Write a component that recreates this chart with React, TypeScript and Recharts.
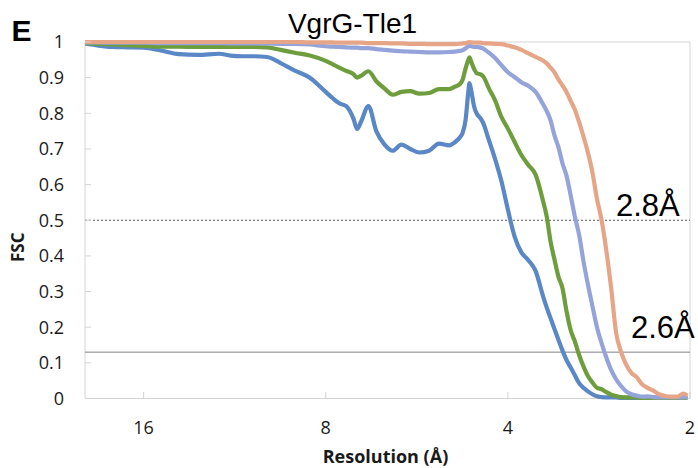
import React from 'react';
import { LineChart, Line, XAxis, YAxis, ReferenceLine, ReferenceArea } from 'recharts';

// Resolution (Å) sampling grid
const resolution = [
  20, 19, 18, 17, 16, 15, 14, 13, 12, 11.5, 11, 10.5, 10, 9.5, 9, 8.5, 8, 7.8, 7.6, 7.4,
  7.2, 7.1, 7.0, 6.8, 6.6, 6.4, 6.2, 6.0, 5.8, 5.6, 5.4, 5.2, 5.0, 4.9, 4.8, 4.75, 4.7,
  4.65, 4.63, 4.6, 4.55, 4.5, 4.45, 4.4, 4.3, 4.2, 4.1, 4.0, 3.9, 3.8, 3.7, 3.6, 3.5,
  3.45, 3.4, 3.35, 3.3, 3.25, 3.2, 3.15, 3.1, 3.05, 3.0, 2.95, 2.9, 2.85, 2.8, 2.75,
  2.7, 2.65, 2.6, 2.55, 2.5, 2.45, 2.4, 2.35, 2.3, 2.25, 2.2, 2.15, 2.1, 2.05, 2.02,
];

const fscBlue = [
  0.996, 0.99, 0.986, 0.985, 0.984, 0.976, 0.966, 0.964, 0.967, 0.962, 0.96, 0.96, 0.958, 0.941, 0.92, 0.9, 0.86, 0.843, 0.828, 0.82,
  0.785, 0.756, 0.775, 0.82, 0.75, 0.713, 0.695, 0.712, 0.7, 0.69, 0.695, 0.715, 0.71, 0.718, 0.733, 0.746, 0.78,
  0.86, 0.885, 0.865, 0.82, 0.798, 0.788, 0.775, 0.725, 0.672, 0.61, 0.53, 0.455, 0.41, 0.388, 0.358, 0.288,
  0.255, 0.225, 0.195, 0.165, 0.135, 0.108, 0.087, 0.065, 0.043, 0.03, 0.02, 0.012, 0.006, 0.004, 0.003,
  0.003, 0.003, 0.002, 0.002, 0.002, 0.002, 0.002, 0.002, 0.002, 0.002, 0.002, 0.002, 0.002, 0.002, 0.002,
];

const fscGreen = [
  0.997, 0.995, 0.993, 0.991, 0.989, 0.987, 0.987, 0.986, 0.986, 0.986, 0.986, 0.986, 0.985, 0.978, 0.97, 0.962, 0.947, 0.938, 0.928, 0.919,
  0.91, 0.9, 0.905, 0.918, 0.89, 0.87, 0.852, 0.86, 0.862, 0.855, 0.857, 0.868, 0.868, 0.874, 0.882, 0.895, 0.925,
  0.95, 0.957, 0.945, 0.925, 0.912, 0.91, 0.905, 0.87, 0.836, 0.79, 0.757, 0.72, 0.683, 0.655, 0.628, 0.555,
  0.51, 0.44, 0.39, 0.342, 0.31, 0.245, 0.192, 0.16, 0.122, 0.09, 0.063, 0.045, 0.03, 0.026, 0.018,
  0.011, 0.007, 0.004, 0.003, 0.003, 0.003, 0.002, 0.002, 0.002, 0.002, 0.002, 0.002, 0.002, 0.002, 0.002,
];

const fscPurple = [
  0.999, 0.999, 0.998, 0.998, 0.998, 0.997, 0.997, 0.997, 0.997, 0.996, 0.996, 0.996, 0.996, 0.995, 0.995, 0.993, 0.988, 0.987, 0.986, 0.985,
  0.984, 0.984, 0.983, 0.983, 0.98, 0.978, 0.976, 0.974, 0.973, 0.972, 0.971, 0.971, 0.972, 0.973, 0.975, 0.977, 0.982,
  0.988, 0.99, 0.988, 0.986, 0.986, 0.985, 0.982, 0.97, 0.955, 0.935, 0.915, 0.902, 0.887, 0.877, 0.86, 0.826,
  0.806, 0.78, 0.738, 0.705, 0.66, 0.625, 0.57, 0.51, 0.459, 0.385, 0.32, 0.26, 0.2, 0.155, 0.115,
  0.08, 0.054, 0.035, 0.02, 0.012, 0.008, 0.005, 0.006, 0.004, 0.003, 0.003, 0.003, 0.003, 0.003, 0.004,
];

const fscOrange = [
  1.0, 1.0, 1.0, 1.0, 1.0, 1.0, 1.0, 1.0, 1.0, 1.0, 1.0, 1.0, 1.0, 1.0, 1.0, 0.999, 0.999, 0.999, 0.998, 0.998,
  0.998, 0.998, 0.998, 0.997, 0.997, 0.997, 0.996, 0.996, 0.995, 0.995, 0.994, 0.994, 0.994, 0.994, 0.995, 0.996, 0.997,
  0.999, 1.0, 0.999, 0.998, 0.998, 0.998, 0.997, 0.996, 0.995, 0.994, 0.99, 0.985, 0.978, 0.968, 0.958, 0.948,
  0.94, 0.928, 0.915, 0.895, 0.878, 0.86, 0.835, 0.81, 0.775, 0.735, 0.69, 0.635, 0.56, 0.5, 0.415,
  0.31, 0.185, 0.131, 0.095, 0.072, 0.06, 0.04, 0.03, 0.022, 0.012, 0.007, 0.005, 0.005, 0.014, 0.008,
];

const xTicks = [16, 8, 4, 2];
const yTicks = [0, 0.1, 0.2, 0.3, 0.4, 0.5, 0.6, 0.7, 0.8, 0.9, 1];

const data = resolution.map((r, i) => ({
  res: r,
  blue: fscBlue[i],
  green: fscGreen[i],
  purple: fscPurple[i],
  orange: fscOrange[i],
}));

const TICK_FONT = "'Open Sans', 'Noto Sans', sans-serif";
const AXIS_GREY = '#d4d4d4';

const YTick = (props: any) => {
  const { x, y, payload } = props;
  const v = payload.value;
  const label = v === 0 ? '0' : v === 1 ? '1' : v.toFixed(1);
  return (
    <g>
      <line x1={x} x2={x + 6} y1={y} y2={y} stroke={AXIS_GREY} strokeWidth={1} />
      <text x={x - 21} y={y} dy="0.36em" textAnchor="end" fontFamily={TICK_FONT} fontSize={18} fill="#1a1a1a">
        {label}
      </text>
    </g>
  );
};

const XTick = (props: any) => {
  const { x, y, payload } = props;
  return (
    <g>
      <line x1={x} x2={x} y1={y} y2={y - 6.5} stroke={AXIS_GREY} strokeWidth={1} />
      <text x={x} y={y + 35} textAnchor="middle" fontFamily={TICK_FONT} fontSize={18} fill="#1a1a1a">
        {payload.value}
      </text>
    </g>
  );
};

const XLabel = (props: any) => {
  const vb = props.viewBox;
  return (
    <text x={vb.x + vb.width / 2 - 2} y={vb.y + 64.5} textAnchor="middle" fontFamily={TICK_FONT} fontWeight="bold" fontSize={18} fill="#1a1a1a">
      Resolution (Å)
    </text>
  );
};

const YLabel = (props: any) => {
  const vb = props.viewBox;
  const cx = vb.x + 18;
  const cy = vb.y + vb.height / 2 + 27;
  return (
    <text x={cx} y={cy} dy="0.36em" textAnchor="middle" transform={`rotate(-90 ${cx} ${cy})`} fontFamily={TICK_FONT} fontWeight="bold" fontSize={17} fill="#1a1a1a">
      FSC
    </text>
  );
};

const ThresholdLabel = (props: any) => {
  const vb = props.viewBox;
  return (
    <text x={vb.x + vb.width + props.dxRight} y={vb.y + props.dyUp} textAnchor="start" fontFamily="'Liberation Sans', Arial, sans-serif" fontSize={31} fill="#000">
      {props.text}
    </text>
  );
};

export default function App() {
  return (
    <div style={{ position: 'absolute', left: 0, top: 0, width: 698, height: 468, background: '#fff' }}>
      <LineChart width={698} height={468} data={data} margin={{ top: 42, right: 8, left: 0, bottom: 39.5 }}>
        <XAxis
          dataKey="res"
          type="number"
          scale="log"
          domain={[2, 20]}
          reversed
          allowDataOverflow
          ticks={xTicks}
          tick={<XTick />}
          tickLine={false}
          axisLine={false}
          tickSize={0}
          tickMargin={0}
          height={30}
          interval={0}
          label={<XLabel />}
        />
        <YAxis
          type="number"
          domain={[0, 1]}
          ticks={yTicks}
          tick={<YTick />}
          tickLine={false}
          axisLine={false}
          tickSize={0}
          tickMargin={0}
          width={85}
          interval={0}
          label={<YLabel />}
        />
        <ReferenceArea x1={20} x2={2} y1={0} y2={1} fill="none" stroke={AXIS_GREY} strokeWidth={1} ifOverflow="visible" />
        <ReferenceLine y={0.5} stroke="#555" strokeWidth={1} strokeDasharray="2 2" label={<ThresholdLabel text="2.8Å" dxRight={-74} dyUp={-4} />} />
        <ReferenceLine y={0.13} stroke="#808080" strokeWidth={1} label={<ThresholdLabel text="2.6Å" dxRight={-59} dyUp={-14} />} />
        <Line dataKey="blue" type="monotone" stroke="#5A87C5" strokeWidth={4.2} dot={false} activeDot={false} isAnimationActive={false} />
        <Line dataKey="green" type="monotone" stroke="#6E9D3E" strokeWidth={4.2} dot={false} activeDot={false} isAnimationActive={false} />
        <Line dataKey="purple" type="monotone" stroke="#95A3DB" strokeWidth={4.2} dot={false} activeDot={false} isAnimationActive={false} />
        <Line dataKey="orange" type="monotone" stroke="#E6A587" strokeWidth={4.2} dot={false} activeDot={false} isAnimationActive={false} />
      </LineChart>
      <svg width={698} height={468} style={{ position: 'absolute', left: 0, top: 0, pointerEvents: 'none' }}>
        <text x={11.5} y={41} fontFamily="'Liberation Sans', Arial, sans-serif" fontWeight="bold" fontSize={30} fill="#000">E</text>
        <text x={352.5} y={33} textAnchor="middle" fontFamily="'Liberation Sans', Arial, sans-serif" fontSize={28} fill="#000">VgrG-Tle1</text>
      </svg>
    </div>
  );
}
